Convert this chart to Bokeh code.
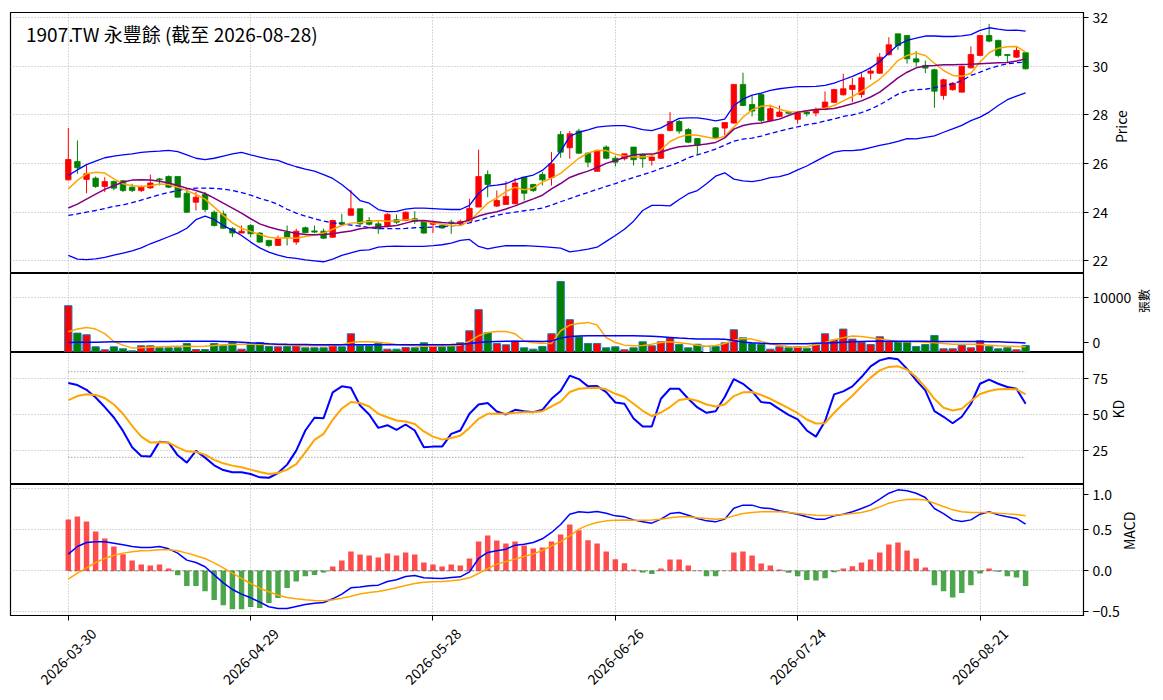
from math import pi
from bokeh.plotting import figure
from bokeh.layouts import column
from bokeh.models import Range1d, FixedTicker, Grid, Label, ColumnDataSource
from bokeh.embed import file_html
from bokeh.resources import INLINE

TITLE = "1907.TW 永豐餘 (截至 2026-08-28)"
TICK_IDX = [0, 20, 40, 60, 80, 100]
TICK_LABELS = ["2026-03-30", "2026-04-29", "2026-05-28", "2026-06-26", "2026-07-24", "2026-08-21"]

OPEN = [
25.33, 26.09, 25.35, 25.40, 25.06, 25.26, 25.29, 25.03, 24.89, 25.00,
25.37, 25.47, 25.47, 24.78, 24.41, 24.73, 24.00, 23.93, 23.32, 23.14,
23.45, 23.14, 22.84, 22.63, 23.18, 22.77, 23.36, 23.23, 23.22, 22.97,
23.58, 23.87, 24.14, 23.66, 23.52, 23.41, 23.69, 23.66, 23.73, 23.62,
23.50, 23.45, 23.59, 23.52, 23.63, 24.21, 25.55, 24.25, 24.32, 24.35,
25.44, 25.14, 25.55, 25.42, 27.20, 26.65, 27.34, 26.43, 25.68, 26.68,
26.22, 26.20, 26.68, 26.38, 26.13, 26.22, 27.36, 27.73, 27.40, 27.03,
26.75, 27.47, 27.46, 27.67, 29.26, 28.43, 28.84, 27.77, 27.94, 28.11,
27.82, 28.12, 28.08, 28.23, 28.52, 28.83, 29.05, 28.84, 29.72, 29.72,
30.48, 31.34, 31.27, 30.31, 30.04, 29.86, 28.80, 29.04, 28.94, 29.94,
30.45, 31.27, 31.07, 30.49, 30.38, 30.56]
HIGH = [
27.47, 26.95, 25.95, 25.47, 25.44, 25.30, 25.33, 25.17, 25.10, 25.55,
25.40, 25.51, 25.47, 24.89, 24.83, 24.83, 24.07, 24.07, 23.39, 23.45,
23.52, 23.18, 22.86, 23.04, 23.45, 23.32, 23.41, 23.45, 23.32, 23.69,
23.93, 24.92, 24.14, 23.80, 23.63, 23.96, 23.91, 24.03, 24.04, 23.66,
23.66, 23.50, 23.69, 23.69, 24.55, 26.57, 25.72, 24.89, 25.28, 25.40,
25.44, 25.17, 25.65, 26.47, 27.34, 27.34, 27.43, 26.47, 26.57, 26.75,
26.32, 26.40, 26.68, 26.41, 26.40, 27.23, 28.12, 27.80, 27.47, 27.05,
26.75, 27.50, 27.69, 29.26, 29.74, 28.80, 28.90, 28.42, 28.39, 28.18,
28.12, 28.15, 28.31, 28.97, 29.08, 29.70, 29.52, 29.72, 29.97, 30.55,
31.20, 31.34, 31.27, 30.63, 30.24, 29.90, 29.49, 29.35, 30.04, 30.82,
31.30, 31.75, 31.10, 30.49, 30.82, 30.59]
LOW = [
25.30, 25.58, 24.78, 25.00, 24.83, 24.90, 24.83, 24.83, 24.83, 24.96,
25.10, 25.00, 24.59, 23.97, 24.07, 24.00, 23.41, 23.32, 22.97, 23.14,
22.97, 22.74, 22.56, 22.63, 22.63, 22.66, 23.14, 23.14, 22.90, 22.95,
23.52, 23.87, 23.39, 23.45, 23.11, 23.38, 23.52, 23.63, 23.52, 23.11,
23.14, 23.32, 23.11, 23.45, 23.60, 24.21, 24.62, 24.21, 24.30, 24.33,
24.48, 24.83, 25.10, 25.10, 26.24, 26.20, 26.40, 25.85, 25.68, 26.18,
25.88, 26.13, 25.92, 25.83, 25.92, 26.20, 27.33, 27.23, 26.84, 26.38,
26.75, 27.02, 27.16, 27.64, 28.36, 27.94, 27.70, 27.74, 27.91, 28.04,
27.64, 27.94, 27.94, 28.19, 28.49, 28.80, 28.53, 28.71, 29.46, 29.69,
30.45, 30.68, 30.11, 30.00, 29.72, 28.30, 28.63, 29.00, 28.94, 29.91,
30.42, 30.99, 30.38, 30.18, 30.35, 29.87]
CLOSE = [
26.17, 25.83, 25.58, 25.06, 25.26, 24.99, 24.89, 24.89, 25.03, 25.20,
25.33, 25.03, 24.62, 24.00, 24.62, 24.11, 23.45, 23.34, 23.14, 23.22,
23.11, 22.77, 22.63, 22.92, 22.97, 23.22, 23.15, 23.18, 22.93, 23.66,
23.52, 24.14, 23.52, 23.50, 23.32, 23.91, 23.59, 24.00, 23.63, 23.14,
23.58, 23.35, 23.55, 23.62, 24.16, 25.47, 25.14, 24.48, 24.65, 25.20,
24.78, 24.89, 25.33, 25.99, 26.47, 27.23, 26.43, 26.06, 26.54, 26.22,
26.06, 26.40, 26.16, 26.20, 26.27, 27.20, 27.73, 27.34, 26.88, 26.75,
26.75, 27.05, 27.69, 29.26, 28.39, 28.16, 27.77, 28.26, 28.12, 28.07,
28.08, 28.05, 28.21, 28.53, 29.05, 29.08, 29.22, 29.53, 29.81, 30.38,
30.89, 30.86, 30.31, 30.18, 29.93, 28.98, 29.45, 29.31, 30.00, 30.49,
31.27, 31.04, 30.45, 30.45, 30.66, 29.90]

BB_UPPER = [
25.51, 25.74, 25.96, 26.10, 26.24, 26.31, 26.36, 26.40, 26.46, 26.49,
26.51, 26.54, 26.49, 26.36, 26.22, 26.16, 26.22, 26.31, 26.40, 26.46,
26.36, 26.27, 26.18, 26.13, 25.99, 25.87, 25.77, 25.69, 25.55, 25.39,
25.14, 24.83, 24.48, 24.37, 24.11, 24.02, 24.03, 24.13, 24.17, 24.17,
24.15, 24.13, 24.11, 24.11, 24.28, 24.78, 25.07, 25.11, 25.17, 25.33,
25.44, 25.53, 25.72, 26.06, 26.50, 27.12, 27.29, 27.39, 27.50, 27.54,
27.56, 27.56, 27.49, 27.40, 27.36, 27.47, 27.67, 27.86, 27.88, 27.88,
27.83, 27.76, 27.83, 28.39, 28.65, 28.82, 28.90, 29.01, 29.08, 29.13,
29.17, 29.17, 29.18, 29.22, 29.31, 29.45, 29.59, 29.75, 29.94, 30.20,
30.55, 30.89, 31.07, 31.16, 31.25, 31.25, 31.23, 31.23, 31.26, 31.31,
31.48, 31.59, 31.53, 31.48, 31.49, 31.45]
BB_LOWER = [
22.22, 22.07, 22.05, 22.08, 22.14, 22.23, 22.32, 22.41, 22.53, 22.70,
22.84, 22.99, 23.14, 23.34, 23.69, 23.84, 23.70, 23.45, 23.26, 23.04,
22.77, 22.53, 22.36, 22.23, 22.14, 22.10, 22.04, 22.00, 21.96, 22.07,
22.22, 22.33, 22.43, 22.45, 22.56, 22.59, 22.60, 22.59, 22.59, 22.59,
22.62, 22.66, 22.73, 22.84, 22.88, 22.59, 22.49, 22.56, 22.62, 22.62,
22.62, 22.60, 22.58, 22.55, 22.52, 22.37, 22.42, 22.48, 22.56, 22.80,
23.04, 23.30, 23.63, 24.07, 24.28, 24.28, 24.26, 24.52, 24.76, 24.89,
25.17, 25.48, 25.62, 25.36, 25.29, 25.26, 25.32, 25.42, 25.46, 25.57,
25.74, 25.90, 26.10, 26.30, 26.47, 26.53, 26.53, 26.57, 26.66, 26.75,
26.82, 26.91, 27.03, 27.02, 27.08, 27.14, 27.29, 27.43, 27.57, 27.77,
27.91, 28.12, 28.39, 28.63, 28.78, 28.91]
MA20 = [
23.87, 23.93, 24.00, 24.07, 24.15, 24.24, 24.30, 24.39, 24.50, 24.61,
24.72, 24.81, 24.89, 24.96, 24.99, 24.99, 24.98, 24.95, 24.89, 24.81,
24.70, 24.57, 24.46, 24.32, 24.12, 23.96, 23.84, 23.73, 23.63, 23.56,
23.51, 23.47, 23.43, 23.37, 23.33, 23.32, 23.32, 23.33, 23.36, 23.37,
23.39, 23.41, 23.44, 23.47, 23.56, 23.66, 23.77, 23.87, 23.95, 24.00,
24.06, 24.11, 24.17, 24.29, 24.43, 24.56, 24.69, 24.81, 24.94, 25.06,
25.18, 25.31, 25.43, 25.54, 25.66, 25.80, 25.92, 26.05, 26.24, 26.36,
26.47, 26.60, 26.76, 26.92, 27.01, 27.05, 27.13, 27.24, 27.34, 27.43,
27.51, 27.60, 27.66, 27.75, 27.84, 27.94, 28.00, 28.10, 28.24, 28.42,
28.64, 28.86, 28.99, 29.04, 29.06, 29.13, 29.20, 29.28, 29.41, 29.63,
29.76, 29.91, 30.02, 30.11, 30.15, 30.18]
MA5 = [
24.96, 25.31, 25.58, 25.64, 25.61, 25.37, 25.17, 25.09, 25.06, 25.09,
25.16, 25.14, 25.03, 24.89, 24.73, 24.54, 24.21, 23.87, 23.56, 23.34,
23.21, 23.08, 22.97, 22.93, 22.95, 22.93, 23.00, 23.06, 23.14, 23.30,
23.45, 23.55, 23.58, 23.62, 23.66, 23.63, 23.65, 23.69, 23.69, 23.63,
23.56, 23.50, 23.45, 23.45, 23.63, 24.00, 24.37, 24.59, 24.85, 25.03,
24.92, 25.00, 25.24, 25.40, 25.60, 25.91, 26.22, 26.43, 26.55, 26.54,
26.38, 26.31, 26.27, 26.27, 26.31, 26.57, 26.91, 27.09, 27.19, 27.17,
27.09, 27.02, 27.12, 27.50, 27.91, 28.21, 28.36, 28.39, 28.24, 28.13,
28.12, 28.15, 28.24, 28.28, 28.39, 28.58, 28.76, 28.97, 29.22, 29.48,
29.83, 30.24, 30.45, 30.55, 30.45, 30.13, 29.83, 29.63, 29.59, 29.72,
30.18, 30.56, 30.75, 30.81, 30.82, 30.59]
MA10 = [
24.17, 24.33, 24.54, 24.74, 24.94, 25.09, 25.24, 25.32, 25.33, 25.32,
25.27, 25.20, 25.10, 24.99, 24.89, 24.77, 24.58, 24.37, 24.17, 23.96,
23.73, 23.52, 23.39, 23.29, 23.21, 23.12, 23.08, 23.07, 23.08, 23.11,
23.17, 23.23, 23.32, 23.36, 23.39, 23.41, 23.45, 23.55, 23.65, 23.66,
23.62, 23.58, 23.55, 23.56, 23.69, 23.84, 23.95, 24.02, 24.13, 24.26,
24.41, 24.55, 24.70, 24.96, 25.18, 25.43, 25.57, 25.69, 25.84, 26.01,
26.13, 26.25, 26.36, 26.38, 26.39, 26.47, 26.60, 26.69, 26.72, 26.76,
26.81, 26.87, 27.06, 27.42, 27.57, 27.64, 27.67, 27.75, 27.83, 27.98,
28.11, 28.17, 28.23, 28.24, 28.27, 28.36, 28.46, 28.58, 28.74, 28.94,
29.23, 29.53, 29.76, 29.94, 30.02, 30.04, 30.07, 30.07, 30.08, 30.09,
30.11, 30.13, 30.15, 30.16, 30.22, 30.31]

VOLUME = [
8537, 3537, 3232, 1037, 488, 1037, 671, 305, 1220, 1220,
854, 854, 854, 1646, 549, 549, 1646, 1220, 1829, 610,
1646, 1829, 1098, 1037, 1098, 1220, 854, 854, 854, 1463,
1037, 3415, 1220, 1220, 1646, 610, 610, 915, 854, 1768,
1150, 1037, 1220, 1768, 3964, 7805, 3598, 1646, 1403, 2073,
854, 610, 1098, 3415, 12928, 5976, 2866, 1646, 1646, 854,
1037, 488, 854, 1951, 1220, 1951, 2683, 1463, 854, 1500,
1100, 1098, 1768, 4147, 2683, 1646, 1463, 610, 1037, 854,
1037, 793, 1403, 3415, 2256, 4269, 2439, 1829, 1463, 2866,
1951, 1951, 1951, 1098, 1463, 3110, 671, 671, 1280, 854,
2134, 1098, 671, 854, 488, 1280]
VOL_MA5 = [
3781, 4269, 4574, 4269, 3450, 2000, 1350, 800, 854, 976,
1037, 1098, 1159, 1159, 1098, 1159, 1281, 1403, 1464, 1525,
1525, 1464, 1464, 1403, 1342, 1281, 1220, 1220, 1220, 1220,
1403, 1829, 1951, 1951, 1890, 1707, 1464, 1342, 1220, 1159,
1159, 1220, 1220, 1342, 2073, 3049, 3659, 3842, 3842, 3400,
2100, 1768, 1707, 1650, 3964, 5000, 5305, 5488, 5000, 2700,
1829, 1342, 1220, 1281, 1525, 1829, 1951, 1768, 1585, 1342,
1159, 1281, 1646, 2256, 2561, 2439, 2012, 1585, 1281, 1098,
976, 1098, 1403, 1829, 2317, 2683, 2988, 2927, 2683, 2439,
2256, 2012, 1951, 1951, 1890, 1768, 1646, 1525, 1525, 1525,
1464, 1342, 1220, 1159, 1098, 1037]
VOL_MA20 = [
1829, 1860, 1890, 1890, 1921, 1951, 1951, 1951, 1982, 2012,
2012, 2012, 2043, 2073, 2073, 2073, 2043, 2012, 1951, 1890,
1768, 1677, 1585, 1525, 1494, 1464, 1464, 1433, 1403, 1403,
1403, 1403, 1403, 1403, 1403, 1403, 1403, 1403, 1403, 1403,
1403, 1433, 1464, 1525, 1646, 1829, 1951, 2012, 2043, 2073,
2073, 2043, 2012, 2100, 2622, 2927, 3019, 3049, 3049, 3049,
3049, 3049, 3049, 3019, 2958, 2866, 2744, 2622, 2531, 2470,
2439, 2439, 2409, 2195, 1890, 1768, 1677, 1616, 1585, 1585,
1585, 1616, 1677, 1738, 1799, 1860, 1951, 2012, 2043, 2073,
2073, 2073, 2073, 2073, 2043, 2012, 2012, 2012, 2012, 2012,
2012, 1982, 1951, 1890, 1829, 1738]

K = [
72.0, 70.6, 67.3, 61.9, 55.2, 47.9, 38.5, 27.0, 21.0, 20.5,
31.0, 30.3, 21.4, 16.3, 24.5, 19.8, 14.4, 11.1, 9.5, 9.5,
8.3, 6.0, 5.7, 9.0, 14.9, 24.7, 38.8, 47.7, 47.4, 65.5,
69.7, 68.7, 56.3, 50.0, 40.6, 42.5, 39.2, 43.0, 38.8, 27.0,
27.5, 27.5, 36.4, 38.8, 50.5, 57.0, 58.0, 52.1, 50.0, 53.3,
52.3, 51.6, 53.3, 61.0, 66.5, 77.2, 74.8, 69.7, 69.9, 65.7,
58.4, 57.5, 47.2, 41.6, 41.6, 61.0, 68.0, 68.0, 61.0, 54.9,
51.2, 52.3, 62.2, 74.8, 71.5, 66.2, 58.7, 58.0, 53.7, 49.8,
46.5, 38.8, 34.5, 45.3, 64.1, 66.2, 69.7, 76.2, 83.7, 87.9,
89.6, 88.6, 81.9, 73.9, 66.9, 52.3, 48.4, 43.9, 48.4, 57.5,
71.5, 74.4, 71.5, 69.2, 68.0, 57.5]
D = [
60.1, 62.9, 64.1, 63.6, 61.5, 57.0, 50.5, 42.0, 34.5, 30.3,
30.6, 30.3, 27.0, 24.2, 23.8, 21.9, 18.2, 15.8, 14.2, 13.0,
11.4, 9.7, 8.3, 9.0, 11.4, 15.3, 23.5, 32.2, 36.4, 46.3,
54.2, 58.7, 58.0, 55.6, 50.5, 48.1, 45.8, 45.1, 43.4, 38.1,
34.5, 32.4, 33.6, 35.2, 40.6, 47.0, 50.5, 50.5, 50.5, 51.2,
51.6, 51.6, 52.3, 55.6, 59.0, 65.7, 68.0, 68.5, 68.7, 67.6,
64.5, 62.2, 57.5, 52.6, 48.8, 51.4, 55.2, 60.1, 61.0, 59.6,
57.0, 55.6, 57.0, 62.9, 65.5, 65.7, 63.6, 61.0, 57.7, 54.4,
50.9, 46.5, 43.7, 43.9, 51.2, 57.5, 63.1, 69.7, 75.8, 80.9,
83.3, 83.7, 81.4, 76.2, 69.2, 61.0, 54.7, 52.8, 54.0, 59.4,
64.3, 66.4, 67.6, 67.8, 67.6, 64.1]
KD_LEVELS = [20, 80]

DIF = [
0.202, 0.296, 0.344, 0.352, 0.352, 0.336, 0.316, 0.296, 0.283, 0.283,
0.296, 0.267, 0.215, 0.130, 0.101, 0.049, -0.049, -0.146, -0.227, -0.283,
-0.328, -0.381, -0.437, -0.457, -0.457, -0.433, -0.409, -0.393, -0.385, -0.340,
-0.283, -0.206, -0.198, -0.182, -0.174, -0.130, -0.109, -0.069, -0.057, -0.085,
-0.089, -0.093, -0.081, -0.073, -0.012, 0.150, 0.223, 0.243, 0.263, 0.312,
0.324, 0.344, 0.389, 0.466, 0.563, 0.688, 0.717, 0.709, 0.721, 0.700,
0.668, 0.656, 0.619, 0.595, 0.579, 0.628, 0.696, 0.709, 0.676, 0.636,
0.607, 0.595, 0.628, 0.761, 0.798, 0.798, 0.765, 0.757, 0.729, 0.709,
0.688, 0.656, 0.628, 0.628, 0.668, 0.688, 0.717, 0.757, 0.802, 0.870,
0.943, 0.984, 0.972, 0.943, 0.891, 0.757, 0.696, 0.619, 0.599, 0.619,
0.688, 0.717, 0.680, 0.656, 0.636, 0.567]
DEA = [
-0.101, -0.028, 0.036, 0.101, 0.150, 0.190, 0.215, 0.231, 0.243, 0.247,
0.255, 0.255, 0.243, 0.215, 0.182, 0.150, 0.097, 0.036, -0.028, -0.093,
-0.154, -0.211, -0.255, -0.296, -0.324, -0.340, -0.352, -0.360, -0.364, -0.352,
-0.332, -0.308, -0.283, -0.263, -0.251, -0.231, -0.206, -0.178, -0.154, -0.138,
-0.134, -0.130, -0.121, -0.109, -0.085, -0.032, 0.028, 0.081, 0.113, 0.142,
0.174, 0.206, 0.247, 0.304, 0.354, 0.425, 0.506, 0.555, 0.587, 0.607,
0.615, 0.619, 0.615, 0.615, 0.619, 0.628, 0.644, 0.656, 0.656, 0.644,
0.636, 0.628, 0.636, 0.668, 0.696, 0.709, 0.717, 0.721, 0.717, 0.709,
0.696, 0.684, 0.676, 0.672, 0.676, 0.684, 0.696, 0.709, 0.737, 0.777,
0.822, 0.850, 0.866, 0.870, 0.862, 0.822, 0.781, 0.741, 0.717, 0.709,
0.709, 0.709, 0.700, 0.692, 0.684, 0.668]
HIST = [
0.623, 0.660, 0.600, 0.478, 0.393, 0.296, 0.202, 0.126, 0.077, 0.065,
0.077, 0.028, -0.053, -0.186, -0.186, -0.247, -0.356, -0.417, -0.466, -0.466,
-0.441, -0.453, -0.390, -0.330, -0.210, -0.130, -0.065, -0.050, -0.020, 0.053,
0.126, 0.235, 0.198, 0.186, 0.162, 0.210, 0.186, 0.223, 0.198, 0.101,
0.077, 0.053, 0.077, 0.065, 0.150, 0.356, 0.429, 0.368, 0.332, 0.356,
0.308, 0.271, 0.283, 0.356, 0.441, 0.563, 0.494, 0.372, 0.332, 0.235,
0.142, 0.093, 0.016, -0.020, -0.040, 0.028, 0.138, 0.138, 0.065, 0.005,
-0.065, -0.065, 0.005, 0.223, 0.235, 0.186, 0.089, 0.065, 0.016, -0.024,
-0.065, -0.113, -0.117, -0.089, -0.016, 0.028, 0.057, 0.101, 0.138, 0.223,
0.320, 0.344, 0.247, 0.150, 0.040, -0.174, -0.247, -0.324, -0.271, -0.174,
-0.032, 0.028, -0.012, -0.065, -0.081, -0.186]

# ---------------------------------------------------------------- layout
FONT = "Noto Sans CJK TC"
TICK_SIZE = "14px"
FRAME_W = 1073
XR = (-6.34, 111.35)
PRICE_R = (21.477, 32.218)
VOL_R = (0, 14400)
KD_R = (0.98, 93.4)
MACD_R = (-0.543, 1.049)
H_PRICE, H_VOL, H_KD, H_MACD = 261, 79, 132, 131
GRID_COLOR = "#b0b0b0"
BORDER_L = 10
BORDER_R = 72
MACD_BOTTOM = 7      # room for the x tick marks under the MACD panel
STRIP_H = 76         # strip that carries the rotated date labels

n = len(CLOSE)
idx = list(range(n))
x_range = Range1d(*XR)
xticker = FixedTicker(ticks=TICK_IDX)


def make_fig(frame_h, yr, yticks, gridticks, ylabel, label_size, label_standoff,
             top=0, bottom=0, with_x=False):
    p = figure(frame_width=FRAME_W, frame_height=frame_h, x_range=x_range,
               y_range=Range1d(*yr), y_axis_location="right",
               x_axis_location="below" if with_x else None,
               toolbar_location=None, output_backend="svg",
               min_border_left=BORDER_L, min_border_top=top,
               min_border_bottom=bottom, min_border_right=BORDER_R)
    p.background_fill_color = "white"
    p.border_fill_color = "white"
    p.outline_line_color = "black"
    p.outline_line_width = 1.2
    axes = list(p.yaxis) + (list(p.xaxis) if with_x else [])
    for ax in axes:
        ax.major_tick_out = 5
        ax.major_tick_in = 0
        ax.minor_tick_out = 0
        ax.minor_tick_in = 0
        ax.major_tick_line_color = "black"
        ax.axis_line_color = "black"
        ax.major_label_standoff = 4
        ax.major_label_text_font = FONT
        ax.major_label_text_font_size = TICK_SIZE
        ax.major_label_text_color = "black"
    p.yaxis.ticker = FixedTicker(ticks=yticks)
    p.yaxis.axis_label = ylabel
    p.yaxis.axis_label_text_font = FONT
    p.yaxis.axis_label_text_font_size = label_size
    p.yaxis.axis_label_text_font_style = "normal"
    p.yaxis.axis_label_text_color = "black"
    p.yaxis.axis_label_standoff = label_standoff
    try:
        p.yaxis.axis_label_orientation = pi / 2   # read bottom to top
    except Exception:
        pass
    gt = FixedTicker(ticks=gridticks)
    for g in p.ygrid:
        g.ticker = gt
        g.grid_line_color = GRID_COLOR
        g.grid_line_dash = "1 2"
        g.grid_line_width = 1
    for g in p.xgrid:
        g.visible = False
    p.add_layout(Grid(dimension=0, ticker=xticker, grid_line_color=GRID_COLOR,
                      grid_line_dash="1 2", grid_line_width=1))
    return p


def col_color(o, c):
    if c > o:
        return "red"
    if c < o:
        return "green"
    return "white"


colors = [col_color(o, c) for o, c in zip(OPEN, CLOSE)]
ppx = FRAME_W / (XR[1] - XR[0])

# ---------------------------------------------------------------- price
price_ticks = [22, 24, 26, 28, 30, 32]
pp = make_fig(H_PRICE, PRICE_R, price_ticks, price_ticks, "Price", TICK_SIZE, 10, top=12)
csrc = ColumnDataSource(dict(
    x=idx, high=HIGH, low=LOW,
    top=[max(o, c) for o, c in zip(OPEN, CLOSE)],
    bottom=[min(o, c) for o, c in zip(OPEN, CLOSE)],
    color=colors))
pp.segment(x0="x", y0="low", x1="x", y1="high", line_color="color", line_width=1, source=csrc)
pp.vbar(x="x", width=0.6, top="top", bottom="bottom", fill_color="color",
        line_color="color", line_width=0.8, source=csrc)
pp.line(idx[:len(BB_UPPER)], BB_UPPER, line_color="blue", line_width=1.3)
pp.line(idx[:len(BB_LOWER)], BB_LOWER, line_color="blue", line_width=1.3)
pp.line(idx[:len(MA20)], MA20, line_color="blue", line_width=1.3, line_dash="5 3")
pp.line(idx[:len(MA5)], MA5, line_color="orange", line_width=1.5)
pp.line(idx[:len(MA10)], MA10, line_color="purple", line_width=1.5)

ppy = H_PRICE / (PRICE_R[1] - PRICE_R[0])
pp.add_layout(Label(x=XR[0] + 15.5 / ppx, y=PRICE_R[1] - 21 / ppy, text=TITLE,
                    text_font=FONT, text_font_size="19px", text_color="black",
                    text_align="left", text_baseline="middle"))

# ---------------------------------------------------------------- volume
# the "0" label would straddle the panel border, so its tick sits a few px higher
vol_zero_tick = int(round(10 * (VOL_R[1] - VOL_R[0]) / H_VOL))
pv = make_fig(H_VOL, VOL_R, [vol_zero_tick, 10000], [10000], "張數", "12px", 9)
pv.yaxis.major_label_overrides = {vol_zero_tick: "0"}
vsrc = ColumnDataSource(dict(x=idx, v=VOLUME, color=colors))
pv.vbar(x="x", width=0.8, top="v", bottom=0, fill_color="color",
        line_color="#1f77b4", line_width=1, source=vsrc)
pv.line(idx[:len(VOL_MA5)], VOL_MA5, line_color="orange", line_width=1.5)
pv.line(idx[:len(VOL_MA20)], VOL_MA20, line_color="blue", line_width=1.5)

# ---------------------------------------------------------------- KD
pk = make_fig(H_KD, KD_R, [25, 50, 75], [25, 50, 75], "KD", TICK_SIZE, 7)
for lv in KD_LEVELS:
    pk.line(idx, [lv] * n, line_color="gray", line_width=1, line_dash="1 2")
pk.line(idx[:len(K)], K, line_color="blue", line_width=2)
pk.line(idx[:len(D)], D, line_color="orange", line_width=2)

# ---------------------------------------------------------------- MACD
macd_top_tick = 0.927   # label "1.0" kept just inside the panel
pm = make_fig(H_MACD, MACD_R, [-0.5, 0.0, 0.5, macd_top_tick], [-0.5, 0.0, 0.5, 1.0],
              "MACD", TICK_SIZE, 6, bottom=MACD_BOTTOM, with_x=True)
pm.yaxis.major_label_overrides = {-0.5: "−0.5", 0: "0.0", 0.5: "0.5", macd_top_tick: "1.0"}
pm.line(idx, [0] * n, line_color="gray", line_width=1, line_dash="4 2")
hsrc = ColumnDataSource(dict(x=idx, h=HIST,
                             color=["red" if h >= 0 else "green" for h in HIST]))
pm.vbar(x="x", width=0.6, top="h", bottom=0, fill_color="color", fill_alpha=0.7,
        line_color=None, source=hsrc)
pm.line(idx[:len(DIF)], DIF, line_color="blue", line_width=1.5)
pm.line(idx[:len(DEA)], DEA, line_color="orange", line_width=1.5)
pm.xaxis.ticker = xticker
pm.xaxis.major_label_standoff = 0
pm.xaxis.major_label_text_font_size = "1px"
pm.xaxis.major_label_overrides = {i: "" for i in TICK_IDX}

# ---------------------------------------------------------------- date strip
ps = figure(frame_width=FRAME_W, frame_height=STRIP_H, x_range=x_range,
            y_range=Range1d(0, STRIP_H), x_axis_location=None, y_axis_location=None,
            toolbar_location=None, output_backend="svg",
            min_border_left=BORDER_L, min_border_right=BORDER_R,
            min_border_top=0, min_border_bottom=0)
ps.outline_line_color = None
ps.background_fill_color = "white"
ps.border_fill_color = "white"
ps.xgrid.visible = False
ps.ygrid.visible = False
label_center = STRIP_H - 34   # 34 px below the strip top
for i, s in zip(TICK_IDX, TICK_LABELS):
    ps.add_layout(Label(x=i, y=label_center, text=s, angle=pi / 4,
                        text_font=FONT, text_font_size=TICK_SIZE, text_color="black",
                        text_align="center", text_baseline="middle"))

layout = column(pp, pv, pk, pm, ps, spacing=0)
open("out.html", "w").write(file_html(layout, INLINE, title="1907.TW"))
